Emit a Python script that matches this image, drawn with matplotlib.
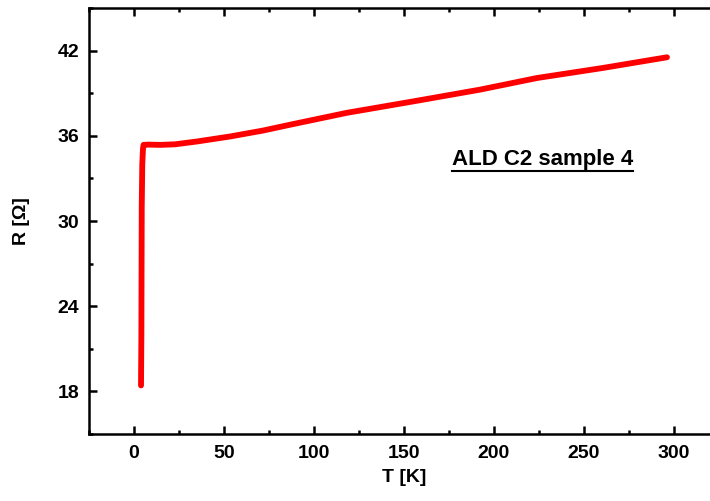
import matplotlib
matplotlib.use("Agg")
import matplotlib.pyplot as plt
from matplotlib.ticker import MultipleLocator
from matplotlib.lines import Line2D

plt.rcParams['font.family'] = ['Liberation Sans', 'DejaVu Sans']

# Resistance vs temperature
temperature = [3.9, 4.1, 4.3, 4.6, 5.0, 5.3, 8.0, 14.4, 22.8, 35.0, 53.3, 71.7, 86.7,
               118.3, 155.0, 192.2, 223.9, 260.6, 296.1]
resistance = [18.42, 22.0, 30.99, 34.0, 35.1, 35.36, 35.38, 35.36, 35.40, 35.60, 35.95,
              36.37, 36.78, 37.62, 38.42, 39.25, 40.07, 40.78, 41.53]

x_ticks = [0, 50, 100, 150, 200, 250, 300]
y_ticks = [18, 24, 30, 36, 42]

fig = plt.figure(figsize=(7.10, 5.01), dpi=100)
ax = fig.add_axes([89 / 710, 67 / 501, 630 / 710, 426 / 501])

ax.plot(temperature, resistance, color='#ff0000', lw=4.2,
        solid_capstyle='round', solid_joinstyle='round')

ax.set_xlim(-25, 325)
ax.set_ylim(15, 45)
ax.set_xticks(x_ticks)
ax.set_yticks(y_ticks)
ax.xaxis.set_minor_locator(MultipleLocator(25))
ax.yaxis.set_minor_locator(MultipleLocator(3))

for s in ax.spines.values():
    s.set_linewidth(1.8)

ax.tick_params(which='both', direction='in', top=True, right=True, width=1.8)
ax.tick_params(which='major', length=6)
ax.tick_params(which='minor', length=3)
ax.tick_params(axis='x', which='major', pad=8, labelsize=14)
ax.tick_params(axis='y', which='major', pad=7, labelsize=14)
for lbl in ax.get_xticklabels() + ax.get_yticklabels():
    lbl.set_fontweight('bold')

ax.set_xlabel('T [K]', fontsize=14, fontweight='bold', labelpad=5)
ax.set_ylabel('R [Ω]', fontsize=14, fontweight='bold', labelpad=20)

txt = ax.text(227, 34.3, 'ALD C2 sample 4', fontsize=16, fontweight='bold',
              ha='center', va='center')

# underline the annotation
fig.canvas.draw()
bb = txt.get_window_extent().transformed(fig.transFigure.inverted())
y_line = bb.y0 - 1 / 501
fig.add_artist(Line2D([bb.x0, bb.x1], [y_line, y_line], transform=fig.transFigure,
                      color='black', lw=1.5))

fig.savefig('out.png', dpi=100)
